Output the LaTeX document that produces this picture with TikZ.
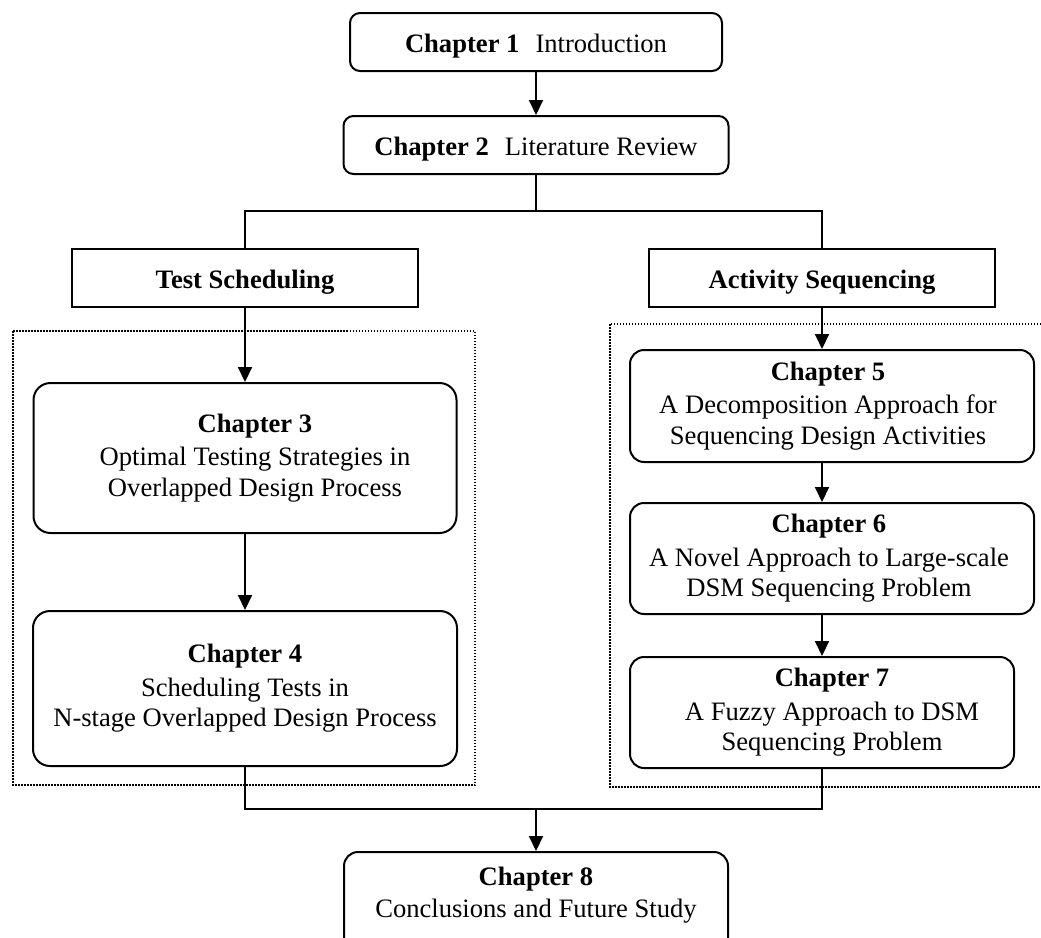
\documentclass[tikz,border=0pt]{standalone}
\usepackage{fontspec}
\setmainfont{Liberation Serif}
\usetikzlibrary{arrows.meta}

\begin{document}
\begin{tikzpicture}[x=1pt,y=-1pt,
  every node/.style={font=\fontsize{26.6}{30.5}\selectfont, inner sep=0pt, align=center},
  conn/.style={line width=2pt},
  arr/.style={conn, -{Triangle[length=15pt,width=14pt]}},
  chbox/.style={draw, line width=2pt, rounded corners=#1},
  chbox/.default=14pt,
  headbox/.style={draw, line width=2pt},
  oneline/.style={text height=20pt, text depth=0pt},
  group/.style={draw, line width=1.5pt, dash pattern=on 1.5pt off 1.5pt}
]
\path[use as bounding box] (0,0) rectangle (1041,937);
\clip (0,0) rectangle (1041,937);

% chapter chain at the top
\node[chbox=10pt, oneline, minimum width=372pt, minimum height=58pt] (c1) at (536,42)
  {\textbf{Chapter 1}\hspace{16pt}Introduction};
\node[chbox=10pt, oneline, minimum width=385pt, minimum height=58pt] (c2) at (536,145)
  {\textbf{Chapter 2}\hspace{16pt}Literature Review};

% the two research streams
\node[headbox, oneline, minimum width=346pt, minimum height=58pt] (ts) at (245,278)
  {\textbf{Test Scheduling}};
\node[headbox, oneline, minimum width=346pt, minimum height=58pt] (as) at (822,278)
  {\textbf{Activity Sequencing}};

% dotted groups
\draw[group] (13,331) rectangle (475,785);
\draw[group] (610,324) rectangle (1060,787);

% left stream
\node[chbox=17pt, minimum width=423pt, minimum height=150pt] (c3) at (245,458) {};
\node (c3t) at ([xshift=10pt]c3.center)
  {\textbf{Chapter 3}\\[3pt]Optimal Testing Strategies in\\Overlapped Design Process};
\node[chbox=17pt, minimum width=424pt, minimum height=155pt] (c4) at (245,688.5) {};
\node (c4t) at (c4.center)
  {\textbf{Chapter 4}\\[3pt]Scheduling Tests in\\N-stage Overlapped Design Process};

% right stream
\node[chbox, minimum width=404pt, minimum height=112pt] (c5) at (832,406) {};
\node (c5t) at ([xshift=-4pt]c5.center)
  {\textbf{Chapter 5}\\[3pt]A Decomposition Approach for\\Sequencing Design Activities};
\node[chbox, minimum width=404pt, minimum height=111pt] (c6) at (832,558.5) {};
\node (c6t) at ([xshift=-3pt]c6.center)
  {\textbf{Chapter 6}\\[3pt]A Novel Approach to Large-scale\\DSM Sequencing Problem};
\node[chbox, minimum width=384pt, minimum height=111pt] (c7) at (822,712.5) {};
\node (c7t) at ([xshift=10pt]c7.center)
  {\textbf{Chapter 7}\\[3pt]A Fuzzy Approach to DSM\\Sequencing Problem};

% conclusion
\node[chbox, minimum width=384pt, minimum height=108pt] (c8) at (536,906) {};
\node (c8t) at (536,895)
  {\textbf{Chapter 8}\\[1pt]Conclusions and Future Study};

% connectors
\coordinate (split) at (536,211);
\coordinate (join) at (536,809);
\draw[arr] (c1.south) -- (c2.north);
\draw[conn] (c2.south) -- (split);
\draw[conn] (ts.north) |- (split) -| (as.north);
\draw[arr] (ts.south) -- (c3.north);
\draw[arr] (c3.south) -- (c4.north);
\draw[arr] (as.south) -- (as.south |- c5.north);
\draw[arr] (c5.south -| as.south) -- (c6.north -| as.south);
\draw[arr] (c6.south -| as.south) -- (c7.north);
\draw[conn] (c4.south) |- (join);
\draw[conn] (c7.south) |- (join);
\draw[arr] (join) -- (c8.north);
\end{tikzpicture}
\end{document}
